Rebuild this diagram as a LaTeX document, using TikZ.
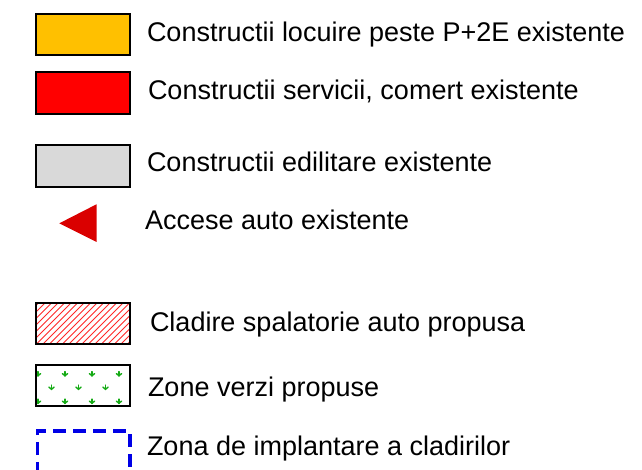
\documentclass[tikz,border=0pt]{standalone}
\usepackage{fontspec}
\setmainfont{Liberation Sans}
\definecolor{orangefill}{RGB}{255,192,0}
\definecolor{redfill}{RGB}{255,0,0}
\definecolor{grayfill}{RGB}{217,217,217}
\definecolor{accessred}{RGB}{218,0,0}
\definecolor{hatchred}{RGB}{255,40,40}
\definecolor{markgreen}{RGB}{20,170,20}
\definecolor{zoneblue}{RGB}{0,0,230}
\begin{document}
\begin{tikzpicture}[x=1pt,y=-1pt,
  legbox/.style={draw=black, line width=2pt, minimum width=94pt, minimum height=41.5pt, inner sep=0pt, outer sep=0pt},
  legtext/.style={anchor=base west, inner sep=0pt, outer sep=0pt, font=\fontsize{27}{30}\selectfont},
  greenmark/.style={draw=markgreen, line width=1.4pt, line cap=round}
]
\clip (0,0) rectangle (642,470);
\fill[white] (0,0) rectangle (642,470);

% boxes
\node[legbox, fill=orangefill] (b1) at (83.2,34.7) {};
\node[legbox, fill=redfill] (b2) at (83.2,93) {};
\node[legbox, fill=grayfill] (b3) at (83.2,166) {};
\fill[accessred] (59.3,223.3) -- (96.5,204.3) -- (96.5,242) -- cycle;
\node[inner sep=0pt, minimum size=0pt] (tri) at (78,223) {};

% hatched box
\node[legbox] (b5) at (83.2,323.5) {};
\begin{scope}
  \clip (b5.south west) rectangle (b5.north east);
  \foreach \i in {-60,-53.5,...,110}
    \draw[hatchred, line width=0.9pt] (36+\i,346) -- (36+\i+46,300);
\end{scope}
\node[legbox] at (83.2,323.5) {};

% green zone box
\node[legbox] (b6) at (83.2,385.7) {};
\begin{scope}
  \clip (b6.south west) rectangle (b6.north east);
  \foreach \x/\y in {38/374,65/374,92/374,119/374,
                     51.5/387.5,78.5/387.5,105.5/387.5,132.5/387.5,
                     38/401.5,65/401.5,92/401.5,119/401.5}{
    \draw[greenmark] (\x,\y-2.4) -- (\x,\y+1.8);
    \draw[greenmark] (\x-2.6,\y-0.4) -- (\x,\y+1.8) -- (\x+2.6,\y-0.4);
  }
\end{scope}
\node[legbox] at (83.2,385.7) {};

% dashed zone
\draw[zoneblue, line width=3.2pt, dash pattern=on 13pt off 7pt] (37.3,495) -- (37.3,431) -- (130,431) -- (130,495);
\coordinate (b7) at (83.2,431);

% labels
\node[legtext] (t1) at (147,41.5) {Constructii locuire peste P+2E existente};
\node[legtext] (t2) at (148,100) {Constructii servicii, comert existente};
\node[legtext] (t3) at (147,171.5) {Constructii edilitare existente};
\node[legtext] (t4) at (145,230) {Accese auto existente};
\node[legtext] (t5) at (150,331.5) {Cladire spalatorie auto propusa};
\node[legtext] (t6) at (148,396) {Zone verzi propuse};
\node[legtext] (t7) at (147,455) {Zona de implantare a cladirilor};
\end{tikzpicture}
\end{document}
